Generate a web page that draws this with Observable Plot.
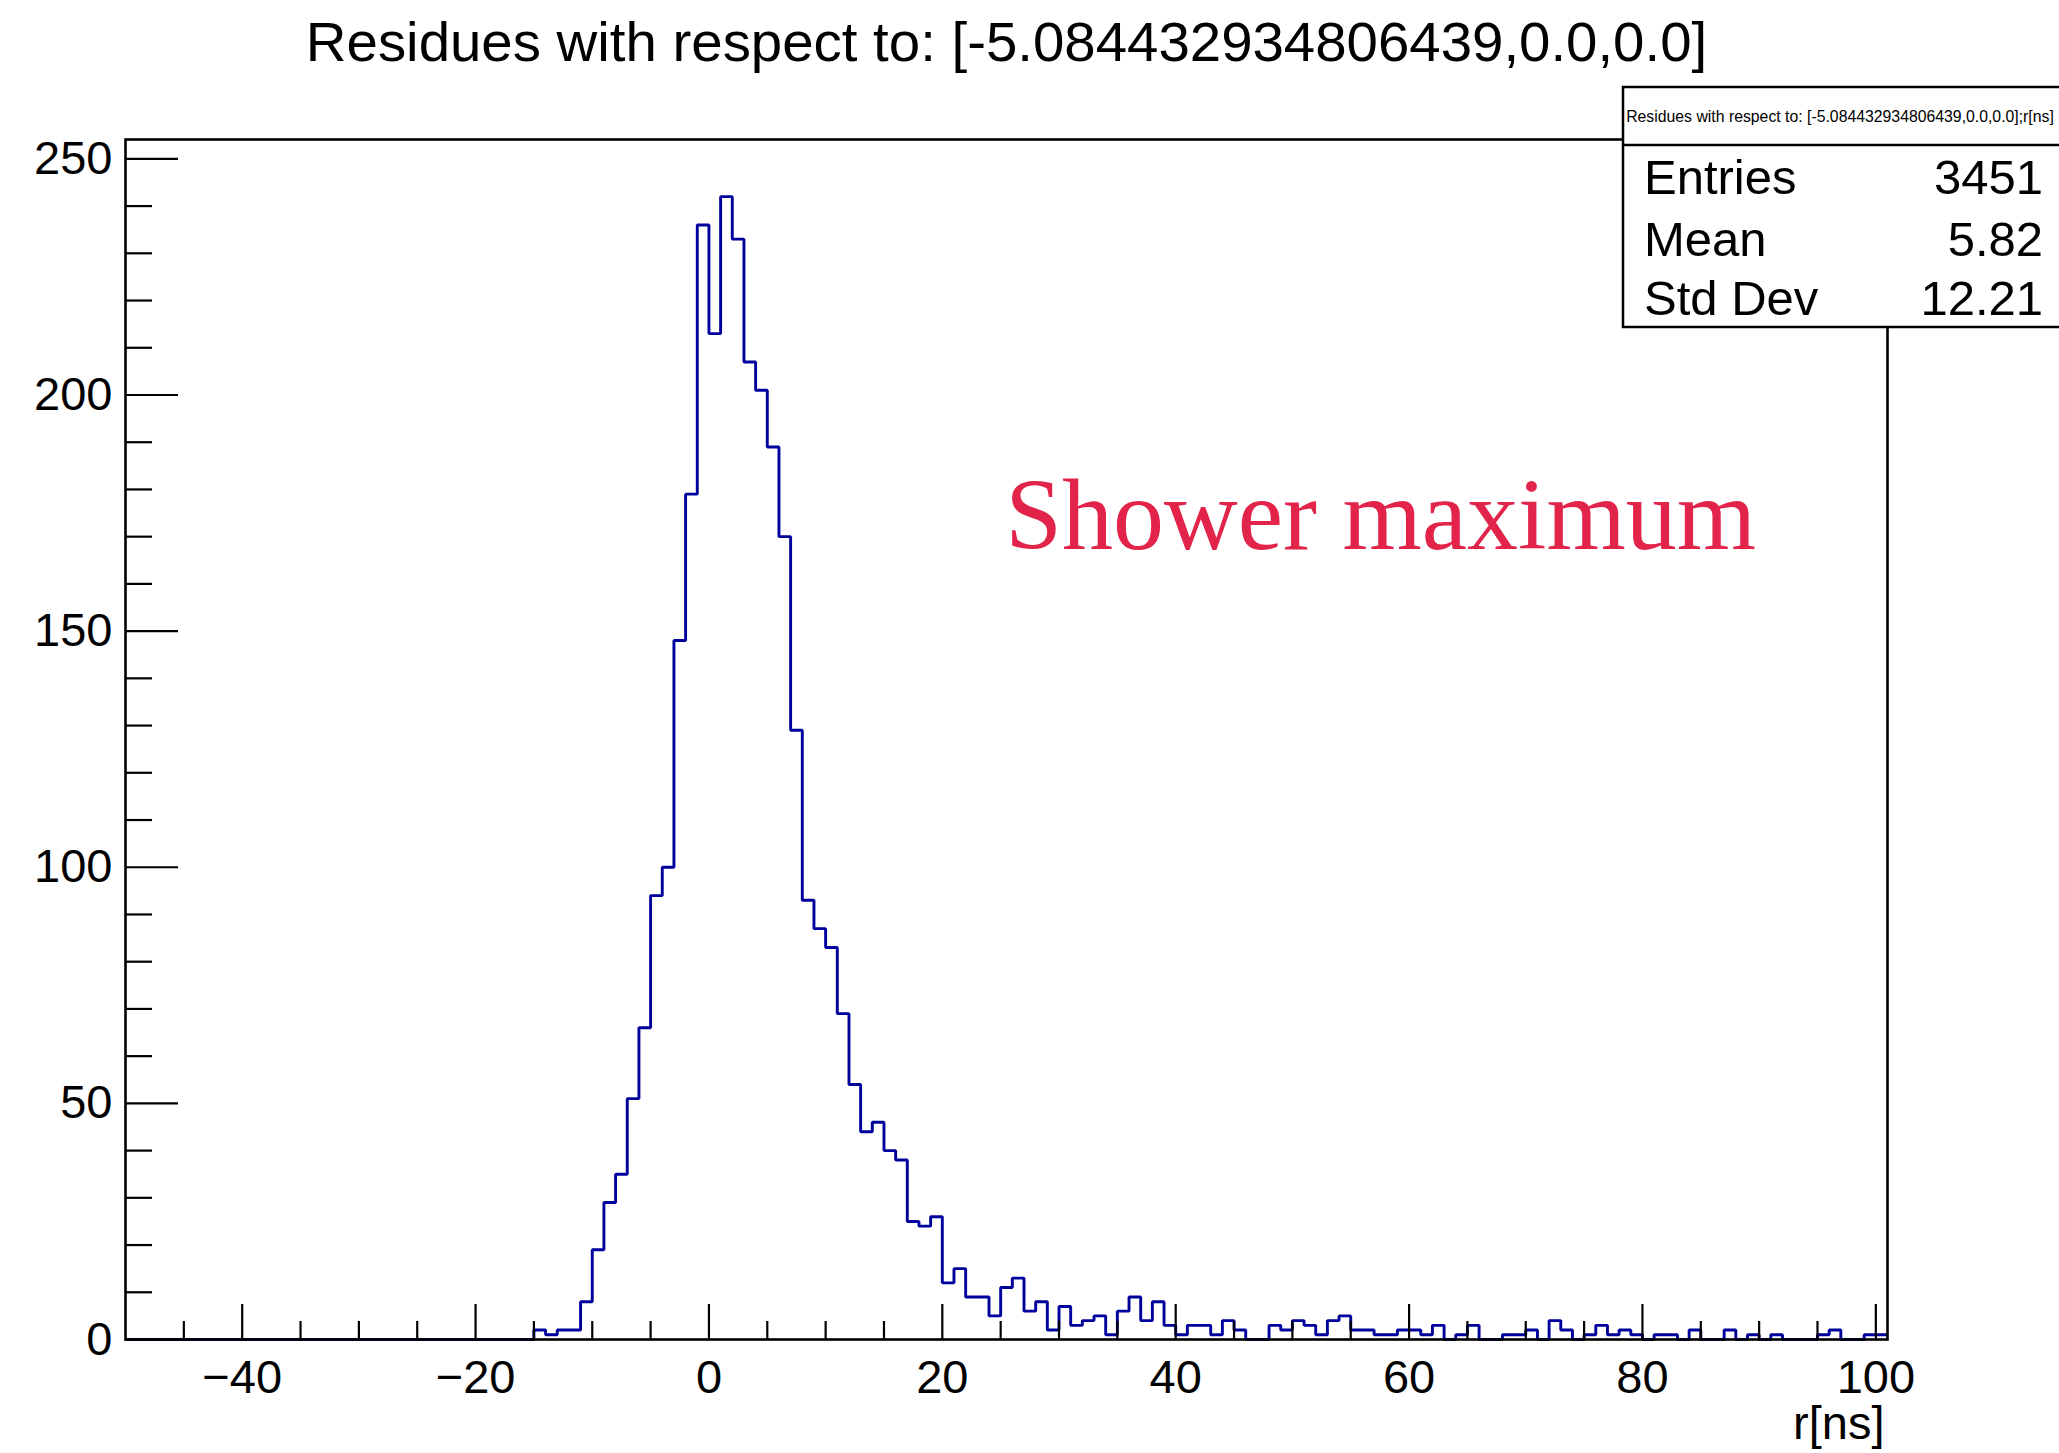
<!DOCTYPE html>
<html>
<head>
<meta charset="utf-8">
<script src="https://cdn.jsdelivr.net/npm/d3@7"></script>
<script src="https://cdn.jsdelivr.net/npm/@observablehq/plot@0.6"></script>
<style>
  html, body { margin: 0; padding: 0; background: #ffffff; }
  svg { display: block; }
</style>
</head>
<body>
<div id="chart"></div>
<script>
// ---------- data ----------
const titleText = "Residues with respect to: [-5.084432934806439,0.0,0.0]";
const xAxisLabel = "r[ns]";
const xRange = [-50, 101];
const binLowEdges = d3.range(-50, 101);          // 151 bins, 1 ns wide
const binUpperEdge = 101;
const counts = [
  // -50 .. -16
  0,0,0,0,0,0,0,0,0,0, 0,0,0,0,0,0,0,0,0,0, 0,0,0,0,0,0,0,0,0,0, 0,0,0,0,0,
  // -15 .. -1
  2,1,2,2,8,19,29,35,51,66,94,100,148,179,236,
  // 0 .. 11
  213,242,233,207,201,189,170,129,93,87,83,69,
  // 12 .. 41
  54,44,46,40,38,25,24,26,12,15,9,9,5,11,13,6,8,2,7,3,4,5,1,6,9,4,8,3,1,3,
  // 42 .. 70
  3,1,4,2,0,0,3,2,4,3,1,4,5,2,2,1,1,2,2,1,3,0,1,3,0,0,1,1,2,
  // 71 .. 100
  0,4,2,0,1,3,1,2,1,0,1,1,0,2,0,0,2,0,1,0,1,0,0,0,1,2,0,0,1,1
];
const yMax = 254.1;
const xMajorTicks = [-40, -20, 0, 20, 40, 60, 80, 100];
const xMinorTicks = [-45,-35,-30,-25,-15,-10,-5,5,10,15,25,30,35,45,50,55,65,70,75,85,90,95];
const yMajorTicks = [0, 50, 100, 150, 200, 250];
const yMinorTicks = [10,20,30,40,60,70,80,90,110,120,130,140,160,170,180,190,210,220,230,240];
const statsTitle = "Residues with respect to: [-5.084432934806439,0.0,0.0];r[ns]";
const statsLabels = ["Entries", "Mean", "Std Dev"];
const statsValues = ["3451", "5.82", "12.21"];
const noteText = ["Shower maximum"];
const noteX = [25.4];
const noteY = [167.4];

// ---------- derived table for the step outline ----------
const histPoints = binLowEdges.map((x, i) => ({x, y: counts[i]}));
histPoints.push({x: binUpperEdge, y: counts[counts.length - 1]});

// ---------- layout ----------
const W = 2059, H = 1453;
const mL = 125, mR = 172, mT = 139, mB = 114;
const frameW = W - mL - mR, frameH = H - mT - mB;
const sans = "'Liberation Sans', Arial, Helvetica, sans-serif";
const fmt = d3.format("");

const svg = Plot.plot({
  width: W, height: H,
  marginLeft: mL, marginRight: mR, marginTop: mT, marginBottom: mB,
  style: {background: "#ffffff", fontFamily: sans, color: "black"},
  x: {domain: xRange, axis: null},
  y: {domain: [0, yMax], axis: null},
  marks: [
    Plot.line(histPoints, {x: "x", y: "y", curve: "step-after", stroke: "#00009c", strokeWidth: 2.9, strokeLinejoin: "miter", strokeLinecap: "butt"}),
    Plot.tickX(xMajorTicks, {x: d => d, insetTop: frameH - 35, stroke: "black", strokeWidth: 2.2}),
    Plot.tickX(xMinorTicks, {x: d => d, insetTop: frameH - 18, stroke: "black", strokeWidth: 2.2}),
    Plot.tickY(yMajorTicks, {y: d => d, insetRight: frameW - 53, stroke: "black", strokeWidth: 2.2}),
    Plot.tickY(yMinorTicks, {y: d => d, insetRight: frameW - 27, stroke: "black", strokeWidth: 2.2}),
    Plot.frame({stroke: "black", strokeWidth: 2.6}),
    Plot.text(xMajorTicks, {x: d => d, text: d => fmt(d), frameAnchor: "bottom", dy: 53, lineAnchor: "bottom", fontSize: 47, fill: "black"}),
    Plot.text(yMajorTicks, {y: d => d, text: d => fmt(d), frameAnchor: "left", dx: -13, textAnchor: "end", lineAnchor: "middle", fontSize: 47, fill: "black"}),
    Plot.text([xAxisLabel], {text: d => d, frameAnchor: "bottom-right", dx: -3, dy: 99, textAnchor: "end", lineAnchor: "bottom", fontSize: 47, fill: "black"}),
    Plot.text([titleText], {text: d => d, frameAnchor: "top", dy: -79, lineAnchor: "bottom", fontSize: 56.4, fill: "black"}),
    Plot.text(noteText, {x: (d, i) => noteX[i], y: (d, i) => noteY[i], text: d => d, textAnchor: "start", lineAnchor: "bottom", fontSize: 102, fontFamily: "'Liberation Serif', 'Times New Roman', serif", fill: "#e2234a"})
  ]
});

// ---------- statistics box (legend-like annotation) ----------
const g = d3.select(svg).append("g").attr("font-family", sans).attr("fill", "black").attr("text-anchor", "start");
const boxL = 1623, boxT = 87, boxB = 327, boxSep = 145;
g.append("rect").attr("x", boxL).attr("y", boxT).attr("width", W + 20 - boxL).attr("height", boxB - boxT)
  .attr("fill", "white").attr("stroke", "black").attr("stroke-width", 2.5);
g.append("line").attr("x1", boxL).attr("x2", W + 20).attr("y1", boxSep).attr("y2", boxSep)
  .attr("stroke", "black").attr("stroke-width", 2.5);
g.append("text").attr("x", 1840).attr("y", 116).attr("dy", "0.35em").attr("text-anchor", "middle")
  .attr("font-size", 15.8).text(statsTitle);
const rowBase = [194, 256, 315];
statsLabels.forEach((lab, i) => {
  g.append("text").attr("x", 1644).attr("y", rowBase[i]).attr("font-size", 49).attr("text-anchor", "start").text(lab);
  g.append("text").attr("x", 2043).attr("y", rowBase[i]).attr("font-size", 49).attr("text-anchor", "end").text(statsValues[i]);
});

document.getElementById("chart").appendChild(svg);
</script>
</body>
</html>
